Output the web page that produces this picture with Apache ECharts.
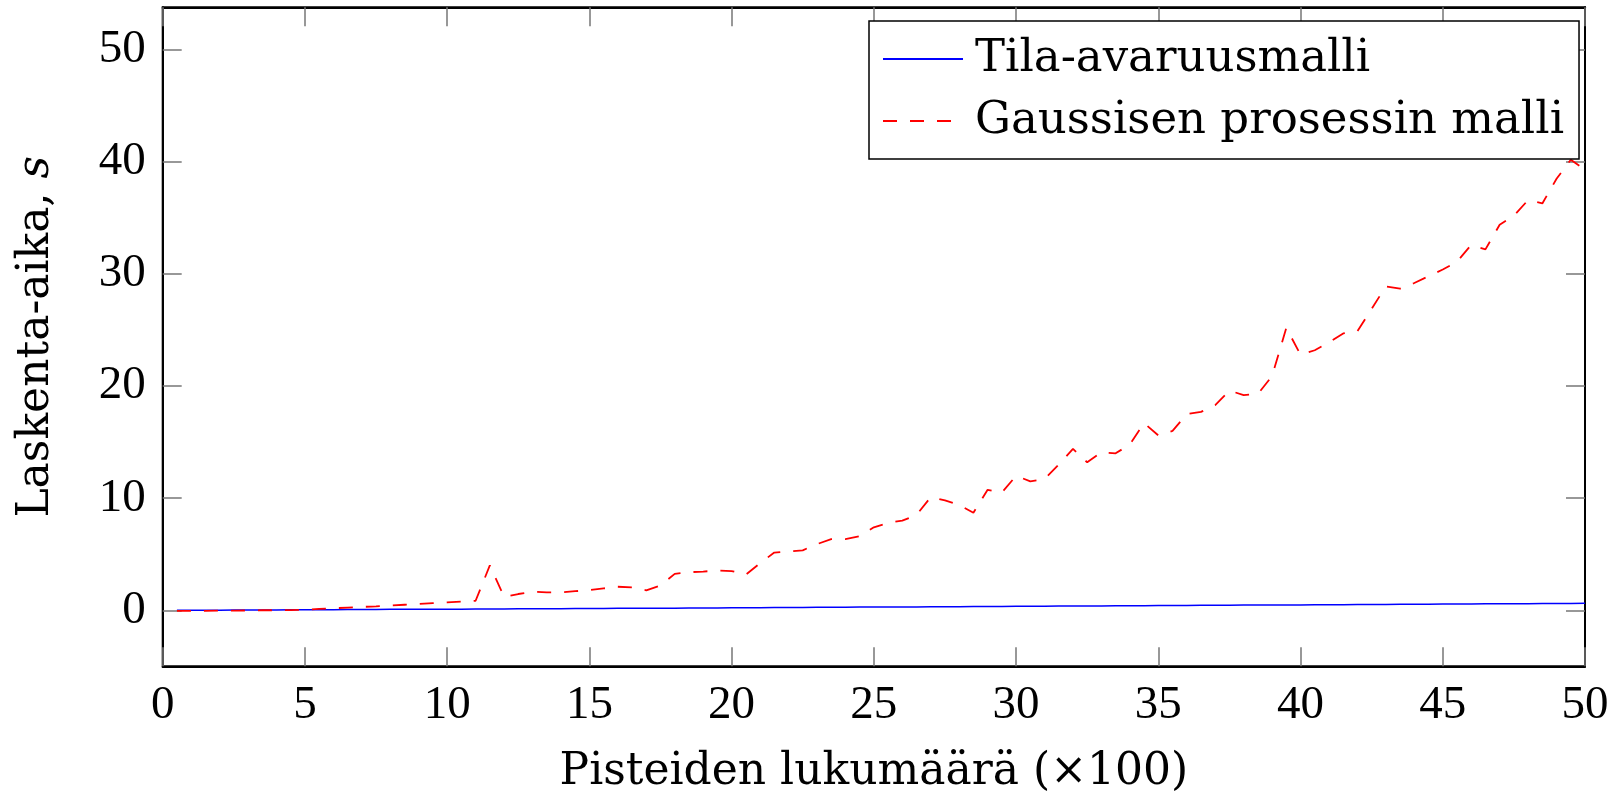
<!DOCTYPE html>
<html>
<head>
<meta charset="utf-8">
<script src="https://cdn.jsdelivr.net/npm/echarts@6/dist/echarts.min.js"></script>
<style>
  html, body { margin: 0; padding: 0; background: #fff; }
  #chart { width: 1621px; height: 800px; }
</style>
</head>
<body>
<div id="chart"></div>
<script>
// Number of points (x100) at which the computation time was measured
const pointCounts = [
  0.5, 1, 1.5, 2, 2.5, 3, 3.5, 4, 4.5, 5,
  5.5, 6, 6.5, 7, 7.5, 8, 8.5, 9, 9.5, 10,
  10.5, 11, 11.5, 12, 12.5, 13, 13.5, 14, 14.5, 15,
  15.5, 16, 16.5, 17, 17.5, 18, 18.5, 19, 19.5, 20,
  20.5, 21, 21.5, 22, 22.5, 23, 23.5, 24, 24.5, 25,
  25.5, 26, 26.5, 27, 27.5, 28, 28.5, 29, 29.5, 30,
  30.5, 31, 31.5, 32, 32.5, 33, 33.5, 34, 34.5, 35,
  35.5, 36, 36.5, 37, 37.5, 38, 38.5, 39, 39.5, 40,
  40.5, 41, 41.5, 42, 42.5, 43, 43.5, 44, 44.5, 45,
  45.5, 46, 46.5, 47, 47.5, 48, 48.5, 49, 49.5, 50
];

// State-space model, seconds
const stateSpaceTimes = [
  0.00, 0.00, 0.01, 0.01, 0.02, 0.02, 0.03, 0.03, 0.04, 0.04,
  0.05, 0.05, 0.06, 0.07, 0.07, 0.08, 0.08, 0.09, 0.09, 0.10,
  0.10, 0.11, 0.12, 0.12, 0.13, 0.13, 0.14, 0.14, 0.15, 0.16,
  0.16, 0.17, 0.17, 0.18, 0.19, 0.19, 0.20, 0.21, 0.21, 0.22,
  0.22, 0.23, 0.24, 0.24, 0.25, 0.26, 0.26, 0.27, 0.28, 0.28,
  0.29, 0.30, 0.30, 0.31, 0.32, 0.32, 0.33, 0.34, 0.34, 0.35,
  0.36, 0.36, 0.37, 0.38, 0.38, 0.39, 0.40, 0.40, 0.41, 0.42,
  0.42, 0.43, 0.44, 0.44, 0.45, 0.46, 0.46, 0.47, 0.48, 0.48,
  0.49, 0.50, 0.50, 0.51, 0.52, 0.52, 0.53, 0.54, 0.54, 0.55,
  0.56, 0.56, 0.57, 0.58, 0.58, 0.59, 0.60, 0.60, 0.61, 0.62
];

// Gaussian process model, seconds
const gpTimes = [
  -0.05, -0.05, -0.05, -0.04, -0.03, -0.02, 0.00, 0.00, 0.02, 0.05,
  0.12, 0.18, 0.24, 0.30, 0.34, 0.42, 0.49, 0.56, 0.64, 0.70,
  0.78, 0.85, 4.00, 1.20, 1.45, 1.65, 1.60, 1.60, 1.70, 1.80,
  1.95, 2.10, 2.05, 1.78, 2.20, 3.25, 3.40, 3.45, 3.55, 3.50,
  3.17, 4.20, 5.15, 5.25, 5.35, 5.90, 6.35, 6.35, 6.60, 7.40,
  7.80, 8.00, 8.50, 10.10, 9.80, 9.40, 8.70, 10.75, 10.50, 12.00,
  11.50, 11.70, 13.00, 14.40, 13.20, 14.10, 14.00, 14.80, 16.70, 15.60,
  16.00, 17.50, 17.70, 18.30, 19.60, 19.20, 19.30, 20.90, 25.20, 22.80,
  23.20, 23.90, 24.70, 24.90, 26.90, 28.90, 28.70, 29.20, 29.80, 30.40,
  31.10, 32.60, 32.20, 34.40, 35.20, 36.60, 36.30, 38.50, 40.20, 39.30
];

const yTickValues = [0, 10, 20, 30, 40, 50];
const seriesNames = ['Tila-avaruusmalli', 'Gaussisen prosessin malli'];
const xAxisTitle = 'Pisteiden lukumäärä (×100)';

const NUM_FONT = 'Liberation Serif';
const TEXT_FONT = 'DejaVu Serif';
const NUM_SIZE = 47;
const TITLE_SIZE = 44;
const LEGEND_SIZE = 45;

const toPairs = (ys) => pointCounts.map((x, i) => [x, ys[i]]);

const tick = {
  show: true,
  inside: true,
  length: 19,
  lineStyle: { color: '#777', width: 1.5 }
};
const edge = { show: true, onZero: false, lineStyle: { color: '#000', width: 2 } };

const chart = echarts.init(document.getElementById('chart'), null, { renderer: 'canvas' });

chart.setOption({
  animation: false,
  backgroundColor: '#fff',
  grid: {
    left: 162.7, top: 7.3, right: 36, bottom: 133.7,
    show: true, borderColor: '#000', borderWidth: 2,
    backgroundColor: 'transparent'
  },
  legend: {
    orient: 'vertical',
    left: 869,
    top: 21,
    padding: [13, 15, 13, 13],
    itemWidth: 80,
    itemHeight: 14,
    itemGap: 12,
    borderColor: '#000',
    borderWidth: 1.5,
    backgroundColor: '#fff',
    itemStyle: { opacity: 0 },
    data: seriesNames,
    textStyle: {
      fontFamily: TEXT_FONT, fontSize: LEGEND_SIZE, color: '#000',
      lineHeight: 50, padding: [0, 0, 0, 7]
    }
  },
  xAxis: [
    {
      type: 'value', min: 0, max: 50, interval: 5, position: 'bottom',
      axisLine: edge, axisTick: tick,
      splitLine: { show: false },
      axisLabel: { fontFamily: NUM_FONT, fontSize: NUM_SIZE, color: '#000', margin: 16 },
      name: xAxisTitle, nameLocation: 'middle', nameGap: 84,
      nameTextStyle: { fontFamily: TEXT_FONT, fontSize: TITLE_SIZE, color: '#000' }
    },
    {
      type: 'value', min: 0, max: 50, interval: 5, position: 'top',
      axisLine: edge, axisTick: tick,
      splitLine: { show: false }, axisLabel: { show: false }
    }
  ],
  yAxis: [
    {
      type: 'value', min: -5, max: 53.8, position: 'left',
      axisLine: edge,
      axisTick: Object.assign({}, tick, { customValues: yTickValues }),
      splitLine: { show: false },
      axisLabel: {
        customValues: yTickValues,
        fontFamily: NUM_FONT, fontSize: NUM_SIZE, color: '#000', margin: 17
      },
      name: '{n|Laskenta-aika, }{i|s}', nameLocation: 'middle', nameGap: 104,
      nameTextStyle: {
        rich: {
          n: { fontFamily: TEXT_FONT, fontSize: TITLE_SIZE, color: '#000' },
          i: { fontFamily: TEXT_FONT, fontSize: TITLE_SIZE, color: '#000', fontStyle: 'italic' }
        }
      }
    },
    {
      type: 'value', min: -5, max: 53.8, position: 'right',
      axisLine: edge,
      axisTick: Object.assign({}, tick, { customValues: yTickValues }),
      splitLine: { show: false },
      axisLabel: { show: false, customValues: yTickValues }
    }
  ],
  series: [
    {
      name: seriesNames[0], type: 'line', xAxisIndex: 0, yAxisIndex: 0,
      data: toPairs(stateSpaceTimes),
      symbol: 'none', showSymbol: false,
      lineStyle: { color: '#0000ff', width: 1.5 },
      itemStyle: { color: '#0000ff' }
    },
    {
      name: seriesNames[1], type: 'line', xAxisIndex: 0, yAxisIndex: 0,
      data: toPairs(gpTimes),
      symbol: 'none', showSymbol: false,
      lineStyle: { color: '#ff0000', width: 1.8, type: [14, 13] },
      itemStyle: { color: '#ff0000' }
    }
  ]
});
</script>
</body>
</html>
